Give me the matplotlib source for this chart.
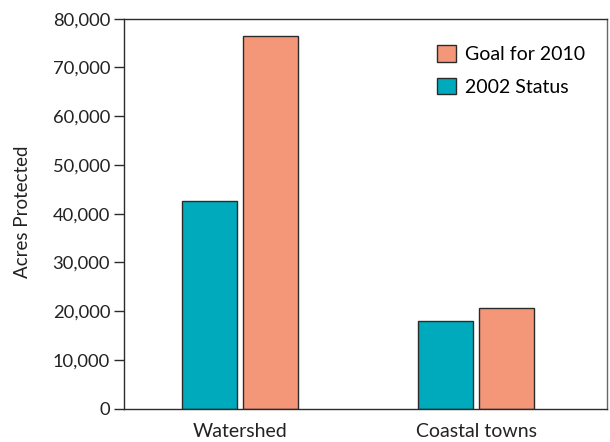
import matplotlib.pyplot as plt
import numpy as np
from matplotlib.patches import Patch
from matplotlib.ticker import FuncFormatter

plt.rcParams['font.family'] = ['Lato', 'DejaVu Sans']

# acres protected per area
categories = ['Watershed', 'Coastal towns']
status_2002 = [42600, 18000]
goal_2010 = [76500, 20700]

teal = '#00AABD'
salmon = '#F49678'
edge = '#2b2b2b'

fig = plt.figure(figsize=(6.10, 4.42), dpi=100)
ax = fig.add_axes([0.2033, 0.0753, 0.7917, 0.8824])

x = np.arange(len(categories))
width = 0.233
offset = 0.129
ax.bar(x - offset, status_2002, width, color=teal, edgecolor=edge, linewidth=1)
ax.bar(x + offset, goal_2010, width, color=salmon, edgecolor=edge, linewidth=1)

ax.set_xlim(-0.489, 1.553)
ax.set_ylim(0, 80000)
ax.set_yticks(np.arange(0, 80001, 10000))
ax.yaxis.set_major_formatter(FuncFormatter(lambda v, p: f'{int(v):,}'))
ax.tick_params(axis='y', direction='out', length=7, width=1, color=edge,
               labelsize=13.2, pad=3, labelcolor='#222222')
ax.set_xticks(x)
ax.set_xticklabels(categories)
ax.tick_params(axis='x', length=0, labelsize=14, pad=10, labelcolor='#222222')

for side in ['left', 'bottom', 'top']:
    ax.spines[side].set_color(edge)
    ax.spines[side].set_linewidth(1)
ax.spines['right'].set_color('#666666')
ax.spines['right'].set_linewidth(1)

fig.text(0.037, 0.522, 'Acres Protected', rotation=90, ha='center', va='center',
         fontsize=13.5, color='#222222')

handles = [Patch(facecolor=salmon, edgecolor=edge, linewidth=1),
           Patch(facecolor=teal, edgecolor=edge, linewidth=1)]
ax.legend(handles, ['Goal for 2010', '2002 Status'], loc='upper left',
          bbox_to_anchor=(0.716, 0.898), bbox_transform=fig.transFigure,
          frameon=False, fontsize=14, handlelength=0.98, handleheight=0.93,
          handletextpad=0.45, labelspacing=0.75, borderaxespad=0, borderpad=0)

fig.savefig('out.png', dpi=100)
